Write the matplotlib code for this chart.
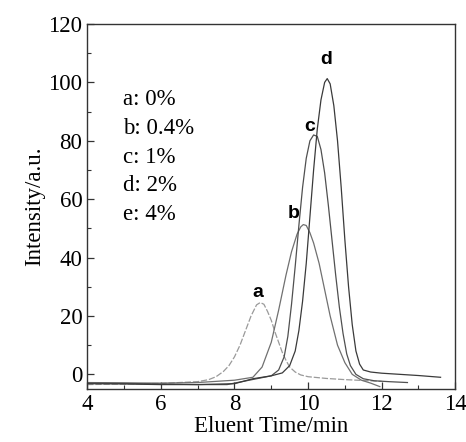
import matplotlib.pyplot as plt
from matplotlib.ticker import MultipleLocator

# curves (eluent time in min, intensity in a.u.)
x_a = [4.0, 5.0, 6.0, 7.0, 7.3, 7.5, 7.7, 7.85, 8.0, 8.15, 8.3, 8.45, 8.6, 8.7, 8.8, 8.9, 9.0, 9.1, 9.2, 9.3,
       9.4, 9.5, 9.65, 9.8, 10.0, 10.5, 11.0, 11.5, 12.0]
y_a = [-3.5, -3.3, -3.1, -2.5, -1.8, -0.8, 1.0, 3.0, 6.0, 10.0, 15.0, 20.0, 23.8, 24.6, 24.0, 21.5, 18.5, 14.5, 11.0, 7.5,
       4.8, 2.5, 0.8, -0.2, -0.8, -1.4, -1.8, -2.1, -2.4]

x_b = [4.0, 5.0, 6.0, 7.0, 8.0, 8.5, 8.75, 9.0, 9.2, 9.4, 9.55, 9.7, 9.8, 9.87, 9.95, 10.05, 10.15, 10.3, 10.45,
       10.6, 10.8, 11.0, 11.2, 11.45, 11.7, 11.95]
y_b = [-2.8, -2.9, -3.0, -2.8, -2.0, -1.0, 2.5, 11.0, 22.0, 34.0, 42.0, 48.0, 50.5, 51.3, 51.0, 48.5, 45.0, 38.0, 29.0,
       20.0, 10.0, 4.0, 0.0, -2.0, -3.0, -4.2]

x_c = [4.0, 5.0, 6.0, 7.0, 7.8, 8.2, 8.6, 9.0, 9.2, 9.35, 9.45, 9.55, 9.65, 9.75, 9.85, 9.95, 10.05, 10.15, 10.25,
       10.35, 10.45, 10.55, 10.65, 10.75, 10.85, 10.95, 11.05, 11.15, 11.3, 11.5, 11.8, 12.2, 12.7]
y_c = [-3.0, -3.1, -3.3, -3.5, -3.5, -2.5, -1.5, -0.5, 1.5, 6.0, 13.0, 24.0, 37.0, 51.0, 64.0, 74.0, 80.0, 82.0, 81.5,
       77.0, 69.0, 58.0, 46.0, 34.0, 23.0, 14.0, 7.0, 3.0, 0.0, -1.5, -2.2, -2.5, -2.8]

x_d = [4.0, 5.0, 6.0, 7.0, 8.0, 8.5, 9.0, 9.3, 9.5, 9.65, 9.75, 9.85, 9.95, 10.05, 10.15, 10.25, 10.35, 10.45, 10.52,
       10.6, 10.7, 10.8, 10.9, 11.0, 11.1, 11.2, 11.3, 11.4, 11.5, 11.7, 12.0, 13.0, 13.6]
y_d = [-3.2, -3.3, -3.5, -3.5, -3.2, -1.5, -0.5, 0.5, 3.0, 8.0, 15.0, 25.0, 38.0, 54.0, 70.0, 84.0, 94.0, 100.0, 101.3,
       99.5, 92.0, 80.0, 64.0, 46.0, 30.0, 17.0, 8.0, 3.5, 1.5, 0.8, 0.4, -0.4, -1.0]

curve_labels = ['a', 'b', 'c', 'd']
label_x = [8.64, 9.6, 10.05, 10.5]
label_y = [28, 55, 85, 108]
legend_lines = ['a: 0%', 'b: 0.4%', 'c: 1%', 'd: 2%', 'e: 4%']

serif = ['Liberation Serif', 'DejaVu Serif']

fig = plt.figure(figsize=(4.66, 4.42), dpi=100)
ax = fig.add_axes([0.1873, 0.12, 0.7897, 0.8257])

ax.plot(x_a, y_a, color='#9a9a9a', lw=0.9, ls=(0, (5, 1.5)))
ax.plot(x_b, y_b, color='#707070', lw=0.9)
ax.plot(x_c, y_c, color='#505050', lw=0.9)
ax.plot(x_d, y_d, color='#3a3a3a', lw=0.9)

for lab, lx, ly in zip(curve_labels, label_x, label_y):
    ax.text(lx, ly, lab, ha='center', va='center', fontsize=14, fontweight='bold',
            family=['Liberation Sans', 'DejaVu Sans'], color='black')

for i, t in enumerate(legend_lines):
    ax.text(4.98, 94 - i * 9.8, t, ha='left', va='center', fontsize=16.5, family=serif)

ax.set_xlim(4, 14)
ax.set_ylim(-5, 120)
ax.xaxis.set_major_locator(MultipleLocator(2))
ax.xaxis.set_minor_locator(MultipleLocator(1))
ax.yaxis.set_major_locator(MultipleLocator(20))
ax.yaxis.set_minor_locator(MultipleLocator(10))
ax.tick_params(which='both', direction='in', top=False, right=False, colors='#333333',
               labelcolor='black', labelsize=16.5)
ax.tick_params(which='major', length=5, width=0.9)
ax.tick_params(which='minor', length=3, width=0.8)
for lbl in ax.get_xticklabels() + ax.get_yticklabels():
    lbl.set_family(serif)
for s in ax.spines.values():
    s.set_color('#333333')
    s.set_linewidth(1.0)

ax.set_xlabel('Eluent Time/min', fontsize=16.5, family=serif, labelpad=1)
ax.set_ylabel('Intensity/a.u.', fontsize=16.5, family=serif, labelpad=2)

fig.savefig('out.png', dpi=100)
